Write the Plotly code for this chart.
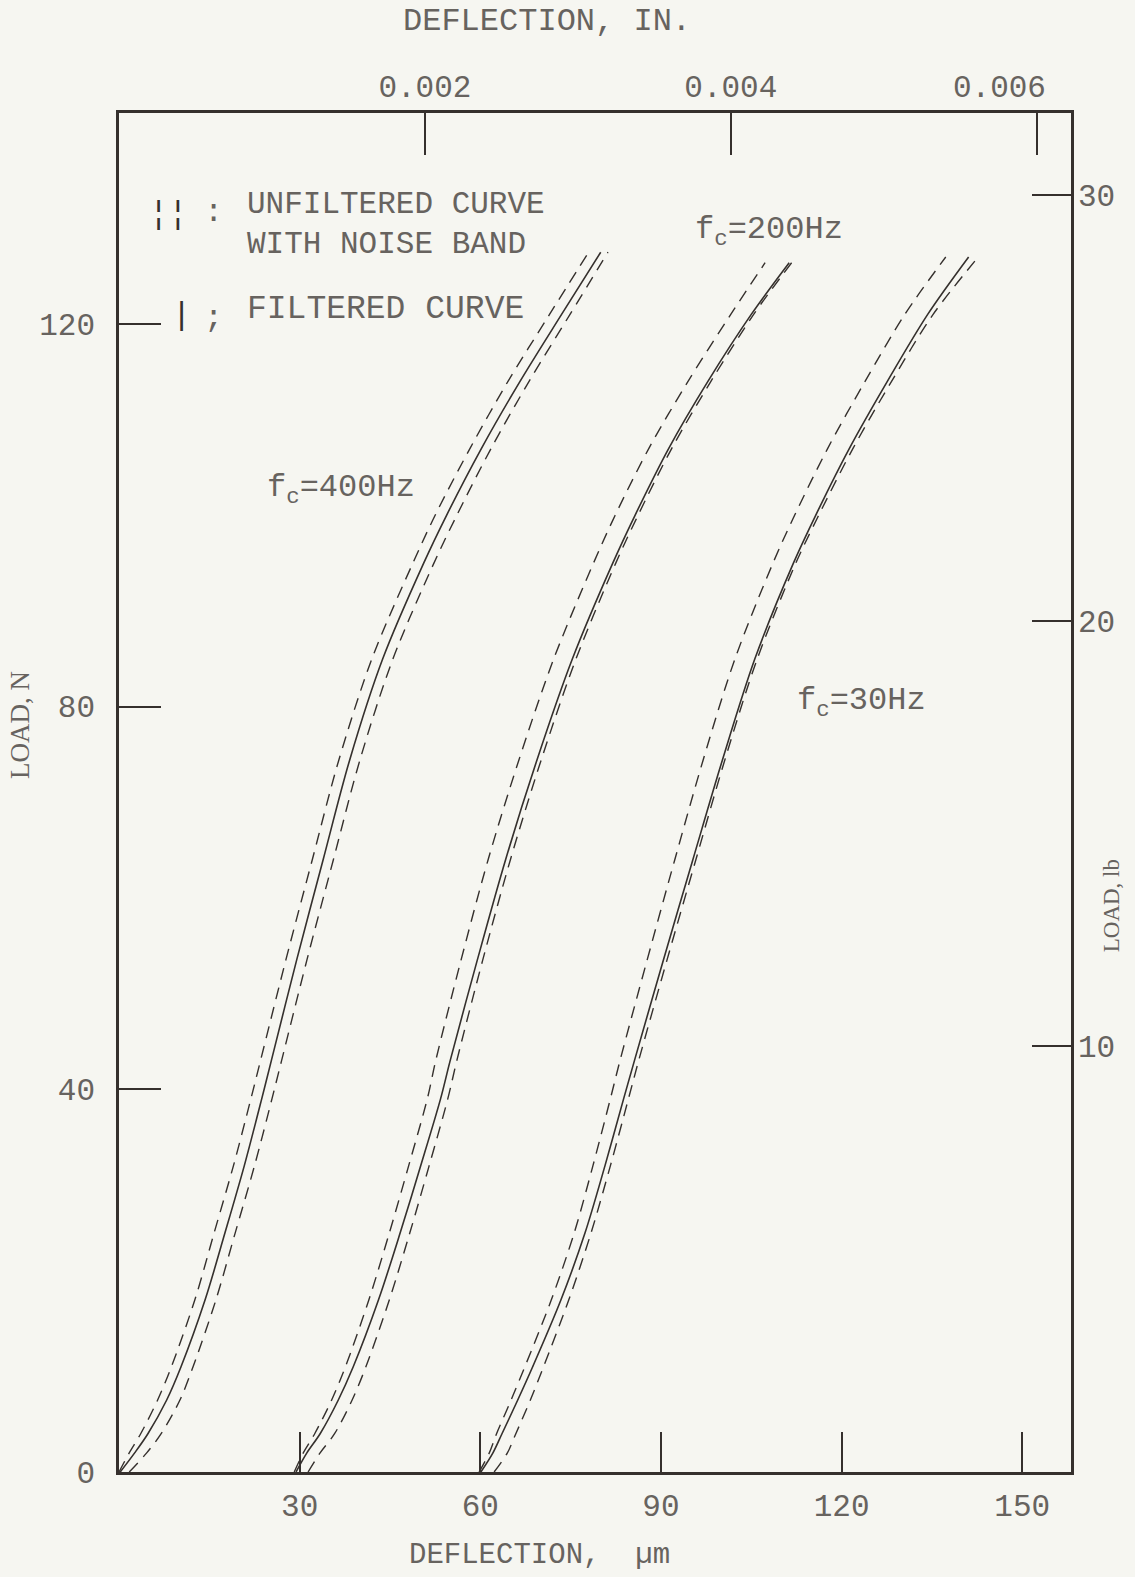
import plotly.graph_objects as go

# ---------------- data ----------------
# load levels, N
load_400 = [0, 2, 4, 7.5, 11, 18, 25, 32, 39, 43, 53.5, 64, 74.4, 85, 95, 100, 107, 114, 121, 127.5]
load_200 = [0, 2, 4, 7.5, 11, 18, 25, 32, 39, 43, 53.5, 64, 74.4, 85, 95, 100, 107, 114, 121, 126.4]
load_30 = [0, 2, 4, 7.5, 11, 18, 25, 32, 39, 43, 53.5, 64, 74.4, 85, 95, 100, 107, 114, 121, 127.0]

# deflection, um  (fc = 400 Hz)
defl_400_filtered = [0.2, 2.6, 4.8, 7.9, 10.3, 14.3, 17.6, 20.8, 23.7, 25.3, 29.5, 33.9, 38.3, 43.8, 50.6, 54.4, 60.2, 66.6, 73.5, 80.0]
defl_400_band_lo = [0.0, 1.7, 3.6, 6.4, 8.7, 12.6, 15.8, 19.0, 21.9, 23.5, 27.7, 32.1, 36.5, 42.0, 48.8, 52.5, 58.3, 64.6, 71.5, 78.0]
defl_400_band_hi = [1.7, 4.6, 7.0, 10.1, 12.3, 16.1, 19.3, 22.5, 25.4, 27.0, 31.2, 35.6, 40.0, 45.5, 52.3, 56.1, 61.8, 68.1, 74.9, 81.2]

# fc = 200 Hz
defl_200_filtered = [29.4, 31.2, 33.4, 36.4, 38.9, 43.1, 46.7, 50.1, 53.4, 55.0, 59.5, 64.2, 69.4, 75.3, 82.0, 85.7, 91.3, 97.8, 105.0, 111.3]
defl_200_band_lo = [29.1, 30.6, 32.5, 35.3, 37.6, 41.5, 44.9, 48.1, 51.2, 52.6, 56.8, 61.3, 66.4, 72.2, 78.8, 82.4, 88.0, 94.5, 101.6, 107.3]
defl_200_band_hi = [31.4, 33.4, 35.8, 38.7, 41.0, 44.9, 48.3, 51.5, 54.6, 56.1, 60.4, 65.0, 70.1, 75.9, 82.5, 86.2, 91.8, 98.3, 105.4, 111.7]

# fc = 30 Hz
defl_30_filtered = [60.1, 62.1, 63.6, 66.2, 68.7, 73.4, 77.4, 80.7, 83.8, 85.6, 90.4, 95.3, 100.2, 105.6, 112.0, 115.7, 121.3, 127.6, 134.3, 141.1]
defl_30_band_lo = [59.8, 61.5, 62.7, 65.1, 67.4, 71.8, 75.6, 78.7, 81.6, 83.2, 87.7, 92.3, 97.0, 102.3, 108.6, 112.2, 117.7, 123.9, 130.5, 137.3]
defl_30_band_hi = [62.3, 64.5, 65.9, 68.3, 70.5, 74.7, 78.4, 81.6, 84.6, 86.3, 91.0, 95.8, 100.6, 106.0, 112.4, 116.2, 121.9, 128.3, 135.2, 142.7]

# axes
x_range_um = [0, 158.1]
y_range_n = [0, 142.05]
x_ticks_um = [30, 60, 90, 120, 150]
y_ticks_n = [0, 40, 80, 120]
x_ticks_in = [0.002, 0.004, 0.006]
x_ticktext_in = ["0.002", "0.004", "0.006\u00a0\u00a0\u00a0\u00a0"]
y_ticks_lb = [10, 20, 30]
UM_PER_IN = 25400.0
N_PER_LB = 4.44822

# ---------------- style ----------------
PAPER = "#f6f6f1"
INK = "#35302d"
TEXT = "#67635f"
FONT = "Liberation Mono"

fig = go.Figure()

families = [
    (load_400, defl_400_band_lo, defl_400_band_hi, defl_400_filtered),
    (load_200, defl_200_band_lo, defl_200_band_hi, defl_200_filtered),
    (load_30, defl_30_band_lo, defl_30_band_hi, defl_30_filtered),
]
for load, lo, hi, filt in families:
    for band in (lo, hi):
        fig.add_trace(go.Scatter(
            x=band, y=load, mode="lines",
            line=dict(color=INK, width=1.4, dash="12px,8px", shape="spline", smoothing=0.9),
            showlegend=False, hoverinfo="skip"))
    fig.add_trace(go.Scatter(
        x=filt, y=load, mode="lines",
        line=dict(color=INK, width=1.6, shape="spline", smoothing=0.9),
        showlegend=False, hoverinfo="skip"))

# empty trace so the secondary (inch / lb) axes are drawn
fig.add_trace(go.Scatter(x=[None], y=[None], xaxis="x2", yaxis="y2",
                         showlegend=False, hoverinfo="skip"))

axis_common = dict(showgrid=False, zeroline=False, ticks="inside",
                   tickcolor=INK, tickwidth=2,
                   tickfont=dict(family=FONT, size=31, color=TEXT))

fig.update_layout(
    width=1135, height=1577, autosize=False,
    margin=dict(l=119, r=64, t=113, b=105),
    paper_bgcolor=PAPER, plot_bgcolor=PAPER,
    showlegend=False,
    xaxis=dict(range=x_range_um, tickvals=x_ticks_um, ticklen=40,
               showline=True, linewidth=2.5, linecolor=INK, mirror=True,
               ticklabelstandoff=4, **axis_common),
    yaxis=dict(range=y_range_n, tickvals=y_ticks_n, ticklen=42,
               showline=True, linewidth=2.5, linecolor=INK, mirror=True,
               ticklabelstandoff=15, **axis_common),
    xaxis2=dict(range=[v / UM_PER_IN for v in x_range_um], overlaying="x", side="top",
                anchor="y2", tickvals=x_ticks_in, ticktext=x_ticktext_in, ticklen=42,
                showline=False, ticklabelstandoff=9, **axis_common),
    yaxis2=dict(range=[v / N_PER_LB for v in y_range_n], overlaying="y", side="right",
                anchor="x2", tickvals=y_ticks_lb, ticklen=39,
                showline=False, ticklabelstandoff=6, **axis_common),
)

def txt(text, x, y, size=32, xanchor="left", yanchor="middle", xref="x", yref="y",
        angle=0, family=FONT, color=TEXT, align="left"):
    fig.add_annotation(text=text, x=x, y=y, xref=xref, yref=yref, showarrow=False,
                       xanchor=xanchor, yanchor=yanchor, textangle=angle, align=align,
                       font=dict(family=family, size=size, color=color))

# axis titles
txt("DEFLECTION,\u00a0\u00a0\u00b5m", 0.442, -0.0618, size=29, xanchor="center", xref="paper", yref="paper")
txt("DEFLECTION, IN.", 0.4496, 1.067, size=32, xanchor="center", xref="paper", yref="paper")
txt("LOAD, N", -0.104, 0.5497, size=27, xanchor="center", xref="paper", yref="paper",
    angle=-90, family="Liberation Serif")
txt("LOAD, lb", 1.042, 0.417, size=23, xanchor="center", xref="paper", yref="paper",
    angle=-90, family="Liberation Serif")

# legend (typed key)
txt("\u00a6\u00a6", 8.2, 131.4, xanchor="center", color=INK)
txt(":", 15.7, 131.6, xanchor="center")
txt("UNFILTERED CURVE<br>WITH NOISE BAND", 21.0, 130.35, size=31)
txt("|", 10.4, 120.9, xanchor="center", color=INK)
txt(";", 15.7, 120.6, xanchor="center")
txt("FILTERED CURVE", 21.0, 121.5, size=33)

# cut-off frequency labels
txt("f<sub>c</sub>=400Hz", 24.3, 102.7)
txt("f<sub>c</sub>=200Hz", 95.4, 129.7)
txt("f<sub>c</sub>=30Hz", 112.3, 80.4)

fig.write_html("out.html")
